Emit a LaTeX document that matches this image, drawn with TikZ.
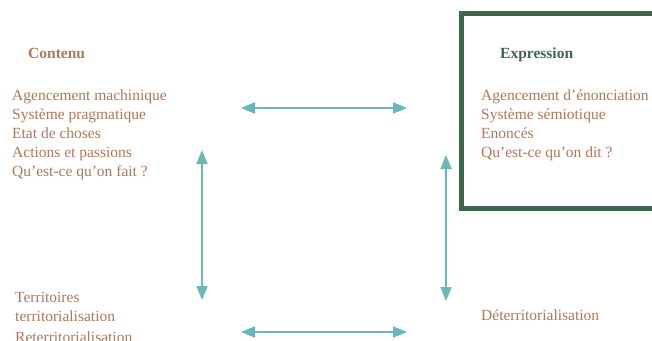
\documentclass[tikz,border=0pt]{standalone}
\usepackage{fontspec}
\setmainfont{Liberation Serif}
\usetikzlibrary{arrows.meta}
\definecolor{brun}{RGB}{174,118,88}
\definecolor{vertfonce}{RGB}{60,104,78}
\definecolor{sarcelle}{RGB}{104,184,186}
\tikzset{
  x=1pt, y=-1pt,
  ligne/.style={anchor=base west, inner sep=0pt, text=brun,
    font=\fontsize{15.5}{19}\selectfont},
  titre/.style={anchor=base west, inner sep=0pt,
    font=\fontsize{15.5}{19}\selectfont\bfseries},
  fleche/.style={draw=sarcelle, line width=1.8pt,
    {Triangle[length=14pt,width=11pt]}-{Triangle[length=14pt,width=11pt]}},
  cadre/.style={draw=vertfonce, line width=5pt}
}
\begin{document}
\begin{tikzpicture}
\useasboundingbox (0,0) rectangle (652,340);
\clip (0,0) rectangle (652,340);

% cadre de l'expression
\draw[cadre] (461,13) rectangle (680,208);

% plan du contenu
\node[titre, text=brun] (contenu) at (28,58) {Contenu};
\node[ligne] (c1) at (12,100) {Agencement machinique};
\node[ligne] (c2) at (12,119) {Système pragmatique};
\node[ligne] (c3) at (12,138) {Etat de choses};
\node[ligne] (c4) at (12,157) {Actions et passions};
\node[ligne] (c5) at (12,176) {Qu’est-ce qu’on fait ?};

% plan de l'expression
\node[titre, text=vertfonce] (expression) at (500,58) {Expression};
\node[ligne] (e1) at (481,100) {Agencement d’énonciation};
\node[ligne] (e2) at (481,119) {Système sémiotique};
\node[ligne] (e3) at (481,138) {Enoncés};
\node[ligne] (e4) at (481,157) {Qu’est-ce qu’on dit ?};

% territoires
\node[ligne] (t1) at (15,302) {Territoires};
\node[ligne] (t2) at (15,321) {territorialisation};
\node[ligne] (t3) at (15,342) {Reterritorialisation};
\node[ligne] (d1) at (481,320) {Déterritorialisation};

% extrémités des flèches
\coordinate (hg) at (241,108);
\coordinate (hd) at (407,108);
\coordinate (bg) at (241,332);
\coordinate (bd) at (407,332);
\coordinate (vgh) at (202,150);
\coordinate (vgb) at (202,300);
\coordinate (vdh) at (446,155);
\coordinate (vdb) at (446,301);

\draw[fleche] (hg) -- (hd);
\draw[fleche] (bg) -- (bd);
\draw[fleche] (vgh) -- (vgb);
\draw[fleche] (vdh) -- (vdb);
\end{tikzpicture}
\end{document}
